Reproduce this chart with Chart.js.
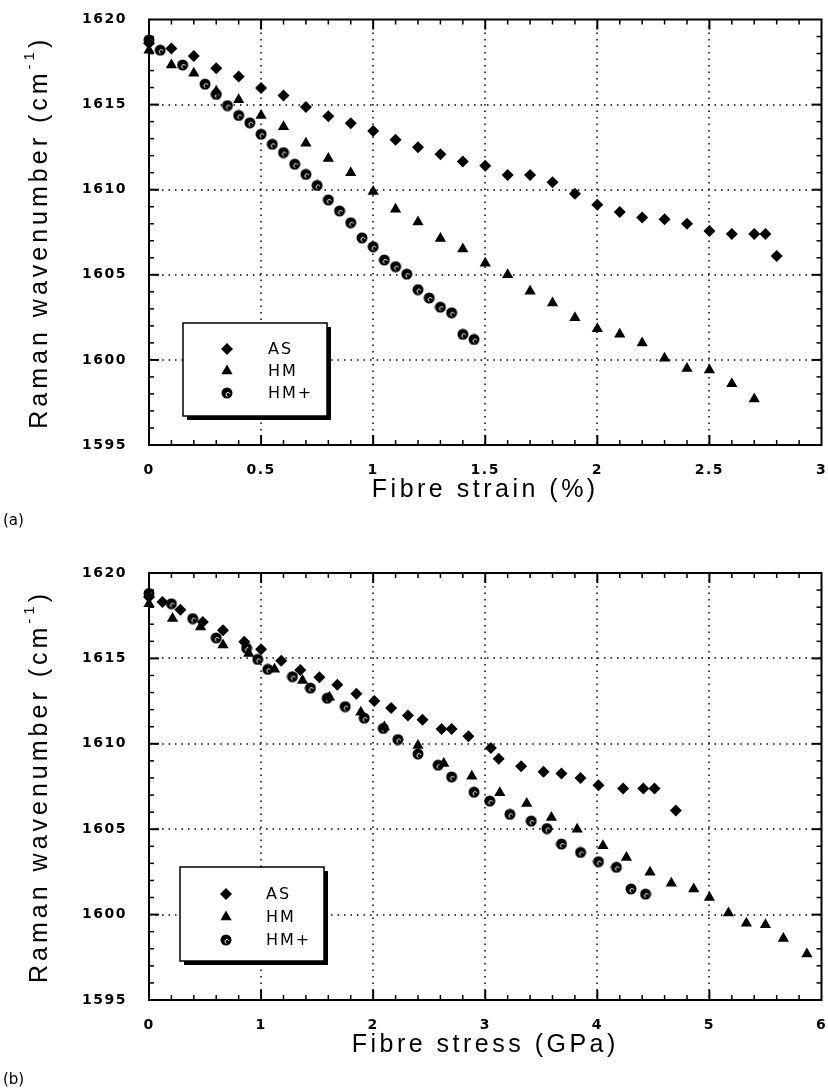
<!DOCTYPE html>
<html>
<head>
<meta charset="utf-8">
<script src="https://cdn.jsdelivr.net/npm/chart.js@4/dist/chart.umd.min.js"></script>
<style>
  html, body { margin: 0; padding: 0; background: #fff; }
  .panel { position: absolute; left: 0; width: 828px; height: 546px; }
</style>
</head>
<body>
<div class="panel" style="top:0"><canvas id="strainChart" width="828" height="546"></canvas></div>
<div class="panel" style="top:546px"><canvas id="stressChart" width="828" height="546"></canvas></div>
<script>
// AS fibre
const strainAS = [0, 0.1, 0.2, 0.3, 0.4, 0.5, 0.6, 0.7, 0.8, 0.9, 1.0, 1.1, 1.2, 1.3, 1.4, 1.5, 1.6, 1.7, 1.8, 1.9, 2.0, 2.1, 2.2, 2.3, 2.4, 2.5, 2.6, 2.7, 2.75, 2.8];
const stressAS = [0, 0.12, 0.28, 0.48, 0.66, 0.85, 1.0, 1.18, 1.35, 1.52, 1.68, 1.85, 2.01, 2.16, 2.31, 2.44, 2.61, 2.70, 2.85, 3.05, 3.12, 3.32, 3.52, 3.68, 3.85, 4.01, 4.23, 4.41, 4.51, 4.70];
const waveAS = [1618.6, 1618.3, 1617.85, 1617.13, 1616.65, 1615.97, 1615.53, 1614.86, 1614.32, 1613.9, 1613.45, 1612.93, 1612.5, 1612.09, 1611.65, 1611.41, 1610.86, 1610.86, 1610.44, 1609.76, 1609.12, 1608.69, 1608.36, 1608.26, 1608.0, 1607.58, 1607.39, 1607.39, 1607.39, 1606.1];

// HM fibre
const strainHM = [0, 0.1, 0.2, 0.3, 0.4, 0.5, 0.6, 0.7, 0.8, 0.9, 1.0, 1.1, 1.2, 1.3, 1.4, 1.5, 1.6, 1.7, 1.8, 1.9, 2.0, 2.1, 2.2, 2.3, 2.4, 2.5, 2.6, 2.7];
const stressHM = [0, 0.21, 0.46, 0.66, 0.89, 1.12, 1.37, 1.61, 1.89, 2.1, 2.4, 2.63, 2.88, 3.13, 3.37, 3.59, 3.82, 4.05, 4.26, 4.47, 4.66, 4.86, 5.0, 5.17, 5.33, 5.5, 5.66, 5.87];
const waveHM = [1618.2, 1617.33, 1616.84, 1615.78, 1615.29, 1614.36, 1613.7, 1612.73, 1611.84, 1610.99, 1609.9, 1608.85, 1608.1, 1607.14, 1606.51, 1605.68, 1605.0, 1604.03, 1603.35, 1602.48, 1601.83, 1601.5, 1601.0, 1600.1, 1599.5, 1599.4, 1598.6, 1597.7];

// HM+ fibre
const strainHMp = [0, 0.05, 0.15, 0.25, 0.3, 0.35, 0.4, 0.45, 0.5, 0.55, 0.6, 0.65, 0.7, 0.75, 0.8, 0.85, 0.9, 0.95, 1.0, 1.05, 1.1, 1.15, 1.2, 1.25, 1.3, 1.35, 1.4, 1.45];
const stressHMp = [0, 0.2, 0.39, 0.6, 0.87, 0.97, 1.06, 1.28, 1.44, 1.59, 1.75, 1.92, 2.09, 2.22, 2.4, 2.58, 2.7, 2.9, 3.04, 3.22, 3.41, 3.55, 3.68, 3.85, 4.01, 4.17, 4.30, 4.43];
const waveHMp = [1618.8, 1618.2, 1617.33, 1616.2, 1615.6, 1614.94, 1614.36, 1613.93, 1613.26, 1612.67, 1612.18, 1611.5, 1610.9, 1610.25, 1609.4, 1608.75, 1608.06, 1607.17, 1606.65, 1605.87, 1605.48, 1605.04, 1604.13, 1603.64, 1603.1, 1602.77, 1601.5, 1601.2];

const seriesNames = ['AS', 'HM', 'HM+'];
const yTicks = [1595, 1600, 1605, 1610, 1615, 1620];

const tickFont = 'bold 14px "DejaVu Sans", sans-serif';
const titleFont = '25px "Liberation Sans", Arial, sans-serif';
const supFont = '15px "Liberation Sans", Arial, sans-serif';

// hatched-circle marker for HM+
const hatched = document.createElement('canvas');
hatched.width = 12;
hatched.height = 12;
(function () {
  const c = hatched.getContext('2d');
  c.fillStyle = '#000';
  c.beginPath();
  c.arc(6, 6, 5.5, 0, Math.PI * 2);
  c.fill();
  c.strokeStyle = '#fff';
  c.lineWidth = 1;
  c.beginPath();
  c.arc(7, 7.5, 2, Math.PI * 0.6, Math.PI * 1.9);
  c.stroke();
})();

function drawMarker(ctx, style, x, y, r) {
  ctx.fillStyle = '#000';
  if (style === 'rectRot') {
    ctx.beginPath();
    ctx.moveTo(x, y - r); ctx.lineTo(x + r, y); ctx.lineTo(x, y + r); ctx.lineTo(x - r, y);
    ctx.closePath(); ctx.fill();
  } else if (style === 'triangle') {
    ctx.beginPath();
    ctx.moveTo(x, y - r); ctx.lineTo(x + 0.866 * r, y + 0.5 * r); ctx.lineTo(x - 0.866 * r, y + 0.5 * r);
    ctx.closePath(); ctx.fill();
  } else {
    ctx.drawImage(style, x - style.width / 2, y - style.height / 2);
  }
}

function line(ctx, x1, y1, x2, y2) {
  ctx.beginPath(); ctx.moveTo(x1, y1); ctx.lineTo(x2, y2); ctx.stroke();
}

const framePlugin = {
  id: 'frame',
  beforeDatasetsDraw(chart, args, o) {
    const {ctx, chartArea: a, scales: {x, y}} = chart;
    ctx.save();
    ctx.strokeStyle = '#000';

    // dotted grid at the labelled values
    ctx.lineWidth = 1.5;
    ctx.setLineDash([1.5, 5]);
    const nx = Math.round((x.max - x.min) / o.majorX);
    for (let i = 1; i < nx; i++) {
      const px = Math.round(x.getPixelForValue(x.min + i * o.majorX));
      line(ctx, px, a.top, px, a.bottom);
    }
    const ny = Math.round((y.max - y.min) / o.majorY);
    for (let i = 1; i < ny; i++) {
      const py = Math.round(y.getPixelForValue(y.min + i * o.majorY));
      line(ctx, a.left, py, a.right, py);
    }
    ctx.setLineDash([]);

    // inward ticks on all four sides
    const mx = Math.round((x.max - x.min) / o.minorX);
    const everyX = Math.round(o.majorX / o.minorX);
    for (let i = 1; i < mx; i++) {
      const px = x.getPixelForValue(x.min + i * o.minorX);
      const major = i % everyX === 0;
      const len = major ? 10 : 5;
      ctx.lineWidth = major ? 2 : 1.5;
      line(ctx, px, a.bottom, px, a.bottom - len);
      line(ctx, px, a.top, px, a.top + len);
    }
    const my = Math.round((y.max - y.min) / o.minorY);
    const everyY = Math.round(o.majorY / o.minorY);
    for (let i = 1; i < my; i++) {
      const py = y.getPixelForValue(y.min + i * o.minorY);
      const major = i % everyY === 0;
      const len = major ? 10 : 5;
      ctx.lineWidth = major ? 2 : 1.5;
      line(ctx, a.left, py, a.left + len, py);
      line(ctx, a.right, py, a.right - len, py);
    }

    ctx.lineWidth = 2;
    ctx.strokeRect(a.left, a.top, a.right - a.left, a.bottom - a.top);

    // tick labels from the scales' own ticks
    ctx.fillStyle = '#000';
    ctx.font = tickFont;
    ctx.letterSpacing = '1.5px';
    ctx.textBaseline = 'middle';
    ctx.textAlign = 'center';
    x.ticks.forEach(t => ctx.fillText(String(t.value), x.getPixelForValue(t.value), a.bottom + 25));
    ctx.textAlign = 'right';
    y.ticks.forEach(t => ctx.fillText(String(t.value), a.left - 22, y.getPixelForValue(t.value)));
    ctx.restore();
  },
  afterDraw(chart, args, o) {
    const {ctx, chartArea: a} = chart;
    ctx.save();
    ctx.fillStyle = '#000';

    // x title
    ctx.font = titleFont;
    ctx.letterSpacing = '3.5px';
    ctx.textAlign = 'center';
    ctx.textBaseline = 'middle';
    ctx.fillText(o.xTitle, (a.left + a.right) / 2, o.xTitleY);

    // y title with superscript
    ctx.save();
    ctx.translate(o.yTitleX, (a.top + a.bottom) / 2);
    ctx.rotate(-Math.PI / 2);
    ctx.textAlign = 'left';
    ctx.letterSpacing = '4px';
    const main = 'Raman wavenumber (cm', sup = '-1', end = ')';
    ctx.font = titleFont; const w1 = ctx.measureText(main).width;
    ctx.font = supFont; const w2 = ctx.measureText(sup).width;
    ctx.font = titleFont; const w3 = ctx.measureText(end).width;
    let sx = -(w1 + w2 + w3) / 2;
    ctx.fillText(main, sx, 0); sx += w1;
    ctx.font = supFont; ctx.fillText(sup, sx, -10); sx += w2;
    ctx.font = titleFont; ctx.fillText(end, sx, 0);
    ctx.restore();

    // panel label
    ctx.font = '15px "DejaVu Sans", sans-serif';
    ctx.letterSpacing = '0px';
    ctx.textAlign = 'left';
    ctx.fillText(o.panel, 3, o.panelY);

    // legend box with drop shadow
    const L = o.legend;
    ctx.fillRect(L.x + 4, L.y + 4, L.w, L.h);
    ctx.fillStyle = '#fff';
    ctx.fillRect(L.x, L.y, L.w, L.h);
    ctx.strokeStyle = '#000';
    ctx.lineWidth = 1.5;
    ctx.strokeRect(L.x, L.y, L.w, L.h);
    ctx.font = '16px "DejaVu Sans", sans-serif';
    ctx.letterSpacing = '2px';
    chart.data.datasets.forEach((ds, i) => {
      const ry = L.y + L.rowTop + i * L.rowGap;
      drawMarker(ctx, ds.pointStyle, L.markerX, ry, ds.pointStyle === 'triangle' ? 6.5 : 6);
      ctx.fillStyle = '#000';
      ctx.fillText(ds.label, L.textX, ry + 1);
    });
    ctx.restore();
  }
};

function makeChart(id, xAS, xHM, xHMp, xMax, xStep, frame, padTop, axisHeight) {
  const pts = (xs, ys) => xs.map((v, i) => ({x: v, y: ys[i]}));
  const base = {showLine: false, clip: false, backgroundColor: '#000', borderColor: '#000', borderWidth: 0};
  return new Chart(document.getElementById(id), {
    type: 'scatter',
    data: {
      datasets: [
        Object.assign({label: seriesNames[0], data: pts(xAS, waveAS), pointStyle: 'rectRot', pointRadius: 6}, base),
        Object.assign({label: seriesNames[1], data: pts(xHM, waveHM), pointStyle: 'triangle', pointRadius: 6.5}, base),
        Object.assign({label: seriesNames[2], data: pts(xHMp, waveHMp), pointStyle: hatched, pointRadius: 6}, base),
      ],
    },
    options: {
      responsive: false,
      animation: false,
      layout: {padding: {top: padTop, right: 5, left: 0, bottom: 0}},
      plugins: {
        legend: {display: false},
        tooltip: {enabled: false},
        frame: frame,
      },
      scales: {
        x: {
          type: 'linear', min: 0, max: xMax,
          grid: {display: false, drawTicks: false},
          border: {display: false},
          ticks: {display: false, stepSize: xStep, padding: 0},
          afterFit: s => { s.height = axisHeight; },
        },
        y: {
          type: 'linear', min: yTicks[0], max: yTicks[yTicks.length - 1],
          grid: {display: false, drawTicks: false},
          border: {display: false},
          ticks: {display: false, stepSize: 5, padding: 0},
          afterFit: s => { s.width = 149; },
        },
      },
    },
    plugins: [framePlugin],
  });
}

makeChart('strainChart', strainAS, strainHM, strainHMp, 3, 0.5, {
  minorX: 0.1, majorX: 0.5, minorY: 1, majorY: 5,
  xTitle: 'Fibre strain (%)', xTitleY: 490, yTitleX: 40,
  panel: '(a)', panelY: 521,
  legend: {x: 183, y: 323, w: 144, h: 93, rowTop: 26, rowGap: 22, markerX: 227, textX: 268},
}, 19.5, 101);

makeChart('stressChart', stressAS, stressHM, stressHMp, 6, 1, {
  minorX: 0.2, majorX: 1, minorY: 1, majorY: 5,
  xTitle: 'Fibre stress (GPa)', xTitleY: 499, yTitleX: 40,
  panel: '(b)', panelY: 534,
  legend: {x: 180, y: 321, w: 144, h: 94, rowTop: 27, rowGap: 23, markerX: 226, textX: 266},
}, 27, 92);
</script>
</body>
</html>
